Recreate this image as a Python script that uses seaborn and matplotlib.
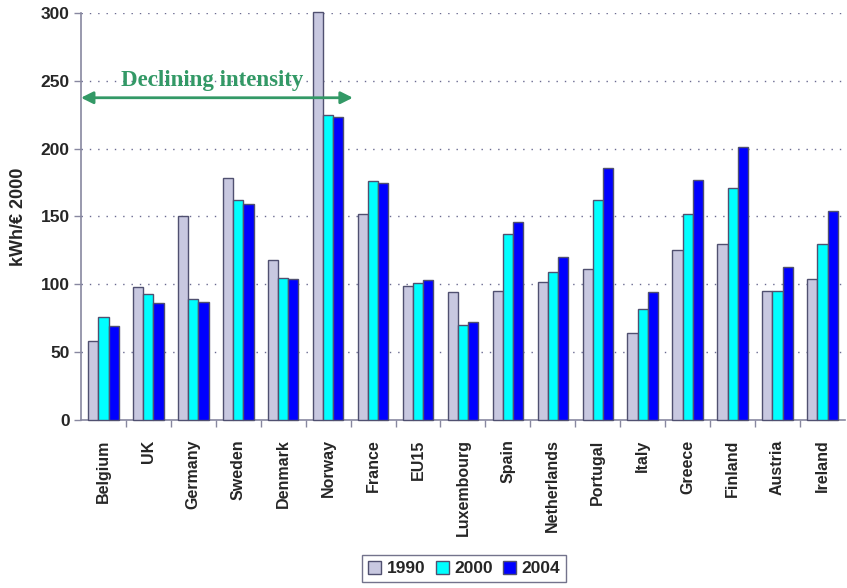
import matplotlib
matplotlib.use("Agg")
import matplotlib.pyplot as plt
import seaborn as sns
import pandas as pd

countries = ["Belgium", "UK", "Germany", "Sweden", "Denmark", "Norway", "France",
             "EU15", "Luxembourg", "Spain", "Netherlands", "Portugal", "Italy",
             "Greece", "Finland", "Austria", "Ireland"]
years = ["1990", "2000", "2004"]
v1990 = [58, 98, 150, 178, 118, 301, 152, 99, 94, 95, 102, 111, 64, 125, 130, 95, 104]
v2000 = [76, 93, 89, 162, 105, 225, 176, 101, 70, 137, 109, 162, 82, 152, 171, 95, 130]
v2004 = [69, 86, 87, 159, 104, 223, 175, 103, 72, 146, 120, 186, 94, 177, 201, 113, 154]
yticks = [0, 50, 100, 150, 200, 250, 300]
ylabel = "kWh/€ 2000"
note = "Declining intensity"

rows = []
for yr, vals in zip(years, [v1990, v2000, v2004]):
    for c, v in zip(countries, vals):
        rows.append({"country": c, "year": yr, "value": v})
df = pd.DataFrame(rows)

sns.set_theme(style="white")
plt.rcParams["font.family"] = ["Liberation Sans", "DejaVu Sans"]
plt.rcParams["font.weight"] = "bold"

fig = plt.figure(figsize=(8.47, 5.88), dpi=100)
ax = fig.add_axes([0.0956, 0.2857, 0.902, 0.6923])

palette = {"1990": "#c8c8e0", "2000": "#00ffff", "2004": "#0000ff"}
sns.barplot(data=df, x="country", y="value", hue="year", order=countries,
            hue_order=years, palette=palette, edgecolor="#505070", linewidth=1.0,
            width=0.68, gap=0, saturation=1, ax=ax, zorder=3)
for bar in ax.patches:
    bar.set_clip_on(False)

ax.set_ylim(0, 300)
ax.set_xlim(-0.5, len(countries) - 0.5)
ax.set_yticks(yticks)
ax.set_yticklabels([str(t) for t in yticks], fontsize=12.5, fontweight="bold")
for t in yticks[1:]:
    ax.axhline(t, color="#6a6a90", linestyle=(0, (1, 5)), linewidth=1.0, zorder=1)

ax.set_xticks(range(len(countries)))
ax.set_xticklabels(countries, rotation=90, fontsize=11.5, fontweight="bold",
                   va="top", ha="center")
ax.tick_params(axis="x", which="major", length=0, pad=14)
ax.set_xticks([i - 0.5 for i in range(1, len(countries))], minor=True)
ax.tick_params(axis="x", which="minor", length=5, color="#8888a0", width=1,
               direction="out", bottom=True)
ax.tick_params(axis="y", length=5, color="#8888a0", width=1, direction="out",
               left=True, pad=3)

ax.set_xlabel("")
ax.set_ylabel(ylabel, fontsize=13, fontweight="bold", labelpad=10)

for side in ["top", "right"]:
    ax.spines[side].set_visible(False)
for side in ["left", "bottom"]:
    ax.spines[side].set_color("#8888a0")
    ax.spines[side].set_linewidth(1.2)

ax.annotate("", xy=(-0.5, 237.5), xytext=(5.55, 237.5),
            arrowprops=dict(arrowstyle="<|-|>", color="#339966", lw=2,
                            mutation_scale=18, shrinkA=0, shrinkB=0), zorder=5)
ax.text(2.42, 246, note, color="#339966", fontsize=16.5, fontweight="bold",
        family="Liberation Serif", ha="center", va="baseline", zorder=5)

handles, labels = ax.get_legend_handles_labels()
leg = ax.legend(handles, labels, loc="center", bbox_to_anchor=(0.548, 0.033),
                bbox_transform=fig.transFigure, ncol=3, frameon=True,
                fancybox=False, edgecolor="#505070", fontsize=12.5,
                handlelength=0.75, handleheight=0.75, handletextpad=0.3,
                columnspacing=0.6, borderpad=0.35, title=None)
leg.get_frame().set_linewidth(1.0)
for txt in leg.get_texts():
    txt.set_fontweight("bold")

fig.savefig("out.png", dpi=100)
